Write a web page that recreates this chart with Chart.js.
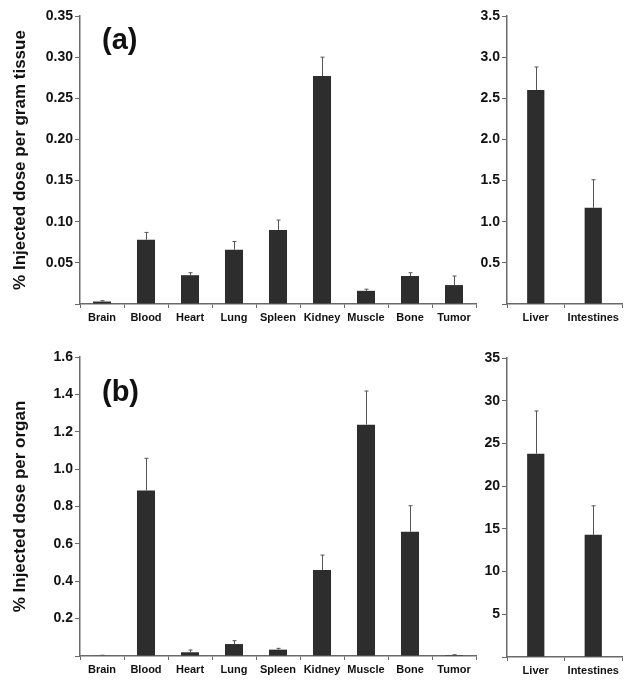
<!DOCTYPE html>
<html>
<head>
<meta charset="utf-8">
<script src="https://cdn.jsdelivr.net/npm/chart.js@4/dist/chart.umd.min.js"></script>
<style>
  body { margin: 0; background: #fff; width: 636px; height: 691px; position: relative; overflow: hidden; }
  canvas { position: absolute; }
  .tag { position: absolute; font: bold 29px "Liberation Sans", Arial, sans-serif; color: #111; line-height: 1; }
</style>
</head>
<body>
<canvas id="aLeft" width="480" height="330" style="left:0;top:0"></canvas>
<canvas id="aRight" width="160" height="330" style="left:470px;top:0"></canvas>
<canvas id="bLeft" width="480" height="342" style="left:0;top:340px"></canvas>
<canvas id="bRight" width="160" height="343" style="left:470px;top:340px"></canvas>
<div class="tag" style="left:102px;top:25px">(a)</div>
<div class="tag" style="left:102px;top:377px">(b)</div>
<script>
// organes "petits"
const organs = ['Brain', 'Blood', 'Heart', 'Lung', 'Spleen', 'Kidney', 'Muscle', 'Bone', 'Tumor'];
// foie + intestins a part (echelle differente)
const bigOrgans = ['Liver', 'Intestines'];

// (a) % dose par gramme de tissu
const perGramMean = [0.003, 0.078, 0.035, 0.066, 0.090, 0.277, 0.016, 0.034, 0.023];
const perGramErr = [0.001, 0.009, 0.003, 0.010, 0.012, 0.023, 0.002, 0.004, 0.011];
const perGramBigMean = [2.60, 1.17];
const perGramBigErr = [0.28, 0.34];

// (b) % dose par organe
const perOrganMean = [0.003, 0.885, 0.020, 0.064, 0.034, 0.460, 1.238, 0.665, 0.005];
const perOrganErr = [0.001, 0.173, 0.012, 0.018, 0.007, 0.080, 0.180, 0.139, 0.002];
const perOrganBigMean = [23.8, 14.3];
const perOrganBigErr = [5.0, 3.4];

const font = '"Liberation Sans", Arial, sans-serif';
const axisColor = '#6a6a6a';

// barres d'erreur (seulement vers le haut)
const errorBars = {
    id: 'errorBars',
    afterDatasetsDraw(chart) {
        const ctx = chart.ctx;
        const y = chart.scales.y;
        const ds = chart.data.datasets[0];
        const meta = chart.getDatasetMeta(0);
        ctx.save();
        ctx.strokeStyle = '#555';
        ctx.lineWidth = 1;
        meta.data.forEach((bar, i) => {
            const top = y.getPixelForValue(ds.data[i] + ds.errors[i]);
            const base = y.getPixelForValue(ds.data[i]);
            const x = Math.round(bar.x) + 0.5;
            ctx.beginPath();
            ctx.moveTo(x, base);
            ctx.lineTo(x, top);
            ctx.moveTo(x - 2, top);
            ctx.lineTo(x + 2, top);
            ctx.stroke();
        });
        ctx.restore();
    }
};

function makeChart(id, labels, values, errors, opts) {
    const ctx = document.getElementById(id).getContext('2d');
    return new Chart(ctx, {
        type: 'bar',
        data: {
            labels: labels,
            datasets: [{
                data: values,
                errors: errors,
                backgroundColor: '#2d2d2d',
                borderWidth: 0,
                barPercentage: opts.barPct,
                categoryPercentage: 1
            }]
        },
        options: {
            responsive: false,
            animation: false,
            layout: { padding: { top: opts.padTop, right: opts.padRight, left: 0, bottom: 0 } },
            plugins: { legend: { display: false }, tooltip: { enabled: false } },
            scales: {
                x: {
                    grid: { display: true, drawOnChartArea: false, drawTicks: true, tickLength: 4, offset: true, color: axisColor },
                    border: { display: true, color: axisColor, width: 1.5 },
                    ticks: { color: '#111', padding: 3, font: { family: font, size: 11, weight: 'bold' } },
                    afterFit: s => { s.height = 26; }
                },
                y: {
                    min: 0,
                    max: opts.max,
                    grid: { display: true, drawOnChartArea: false, tickLength: 5, color: axisColor },
                    border: { display: true, color: axisColor, width: 1.5 },
                    ticks: {
                        stepSize: opts.step,
                        padding: 2,
                        color: '#111',
                        font: { family: font, size: 14, weight: 'bold' },
                        callback: v => v === 0 ? '' : v.toFixed(opts.dec)
                    },
                    title: {
                        display: !!opts.title,
                        text: opts.title || '',
                        color: '#111',
                        padding: { top: 10, bottom: 0 },
                        font: { family: font, size: 17, weight: 'bold' }
                    },
                    afterFit: s => { s.width = opts.yWidth; }
                }
            }
        },
        plugins: [errorBars]
    });
}

makeChart('aLeft', organs, perGramMean, perGramErr,
    { max: 0.35, step: 0.05, dec: 2, title: '% Injected dose per gram tissue', yWidth: 80, padTop: 16, padRight: 4, barPct: 0.41 });
makeChart('aRight', bigOrgans, perGramBigMean, perGramBigErr,
    { max: 3.5, step: 0.5, dec: 1, yWidth: 37, padTop: 16, padRight: 8, barPct: 0.30 });
makeChart('bLeft', organs, perOrganMean, perOrganErr,
    { max: 1.6, step: 0.2, dec: 1, title: '% Injected dose per organ', yWidth: 80, padTop: 17, padRight: 4, barPct: 0.41 });
makeChart('bRight', bigOrgans, perOrganBigMean, perOrganBigErr,
    { max: 35, step: 5, dec: 0, yWidth: 37, padTop: 18, padRight: 8, barPct: 0.30 });
</script>
</body>
</html>
